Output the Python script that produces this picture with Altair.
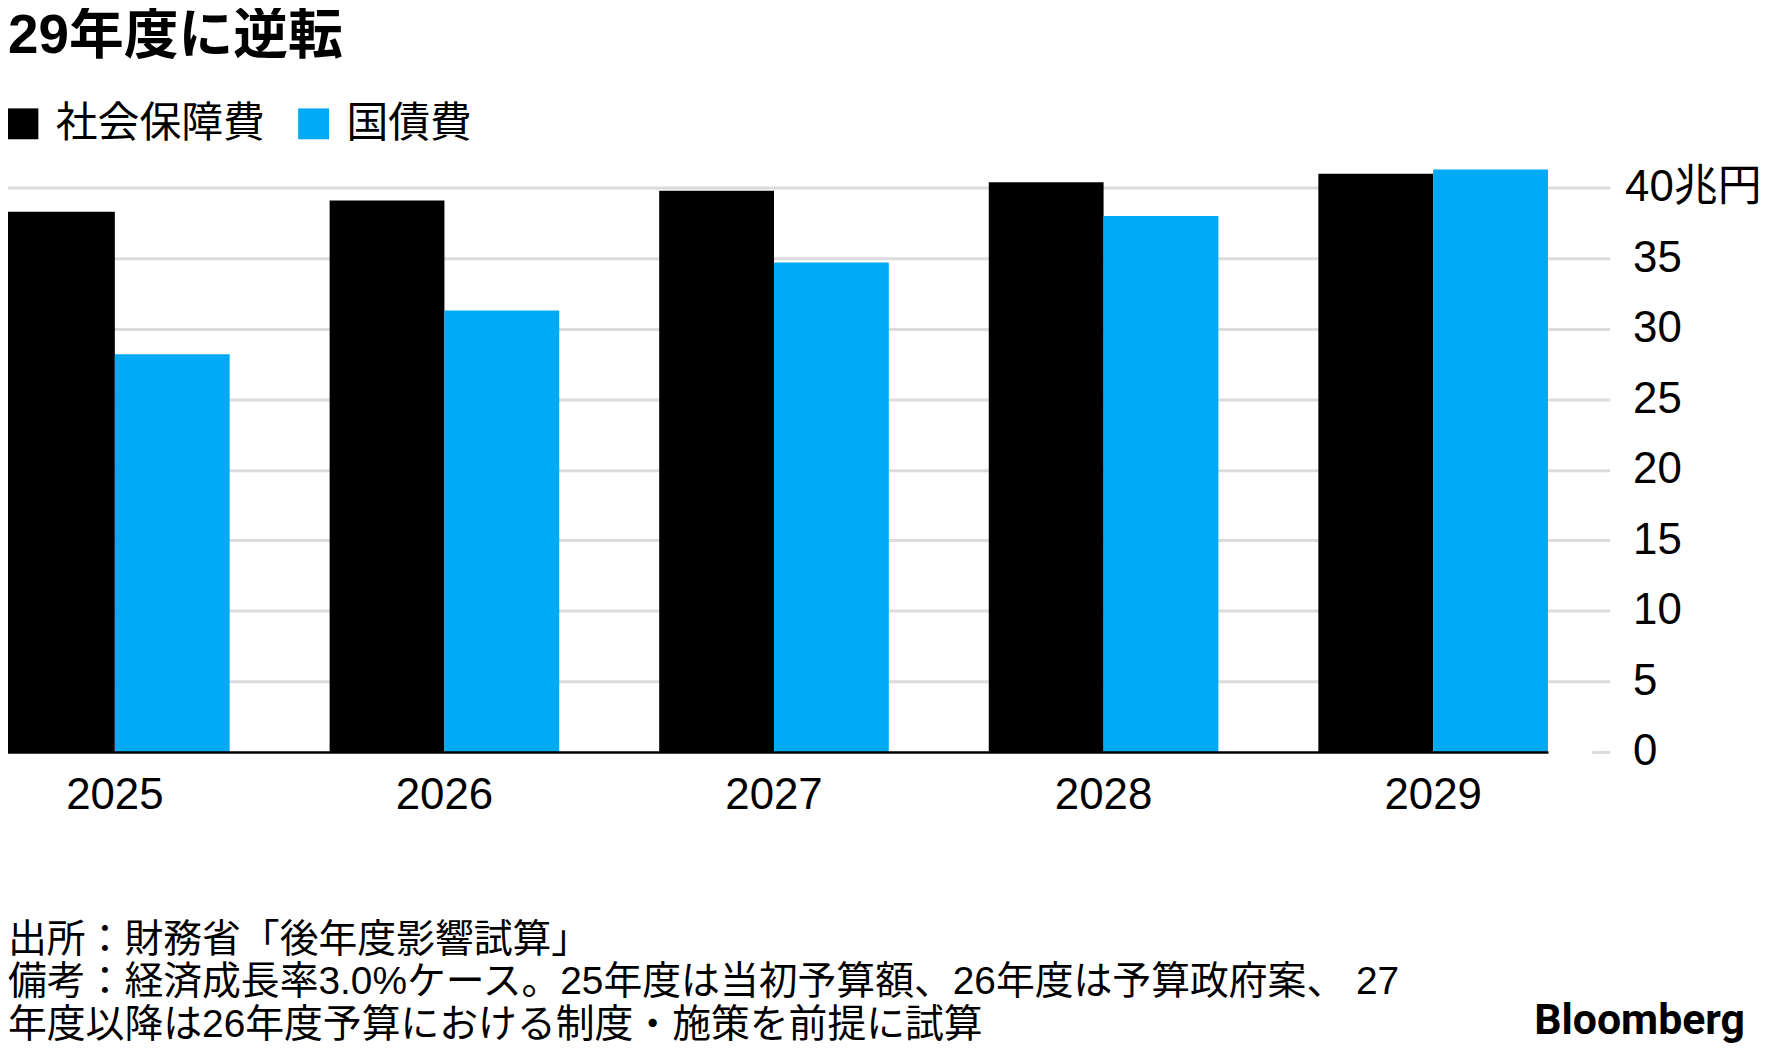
import altair as alt
import pandas as pd

years = ["2025", "2026", "2027", "2028", "2029"]
social_security = [38.3, 39.1, 39.8, 40.4, 41.0]
debt_service = [28.2, 31.3, 34.7, 38.0, 41.3]
series_names = ["社会保障費", "国債費"]
series_colors = ["#000000", "#00AAF5"]
y_tick_values = [0, 5, 10, 15, 20, 25, 30, 35, 40]
y_unit_label = "40兆円"
title_text = "29年度に逆転"
footnote_lines = [
    "出所：財務省「後年度影響試算」",
    "備考：経済成長率3.0%ケース。25年度は当初予算額、26年度は予算政府案、 27",
    "年度以降は26年度予算における制度・施策を前提に試算",
]
credit_text = "Bloomberg"

FONT = "'Liberation Sans', 'Noto Sans CJK JP', sans-serif"
GRID = "#dcdcdc"

rows = []
for i, yr in enumerate(years):
    rows.append({"year": yr, "series": series_names[0], "value": social_security[i]})
    rows.append({"year": yr, "series": series_names[1], "value": debt_service[i]})
df = pd.DataFrame(rows)

W, H = 1555, 595
TOP = 158

bars = alt.Chart(df).mark_bar().encode(
    x=alt.X(
        "year:N", sort=years,
        scale=alt.Scale(paddingInner=0.3033, paddingOuter=0),
        axis=alt.Axis(title=None, labelAngle=0, ticks=False, grid=False, domain=True,
                      domainColor="#000000", domainWidth=2.5, labelFont=FONT,
                      labelFontSize=44, labelColor="#000000", labelPadding=22, zindex=1),
    ),
    xOffset=alt.XOffset("series:N", sort=series_names,
                        scale=alt.Scale(paddingInner=0, paddingOuter=0)),
    y=alt.Y(
        "value:Q",
        scale=alt.Scale(domain=[0, 42], nice=False, zero=True),
        axis=alt.Axis(title=None, orient="right", values=y_tick_values, domain=False,
                      tickSize=62, tickColor=GRID, tickWidth=3,
                      tickDash={"condition": {"test": "datum.value === 0", "value": [0, 44, 18, 100]},
                                "value": []},
                      grid=True, gridColor=GRID, gridWidth=3,
                      gridOpacity={"condition": {"test": "datum.value === 0", "value": 0}, "value": 1},
                      labelFont=FONT, labelFontSize=44, labelColor="#000000",
                      labelPadding={"condition": {"test": "datum.value === 40", "value": 15},
                                    "value": 23},
                      labelExpr=f"datum.value === 40 ? '{y_unit_label}' : datum.label"),
    ),
    color=alt.Color(
        "series:N", sort=series_names,
        scale=alt.Scale(domain=series_names, range=series_colors),
        legend=alt.Legend(orient="none", legendX=2, legendY=-57, direction="horizontal",
                          title=None, symbolType="square", symbolSize=961,
                          symbolStrokeWidth=0, symbolOpacity=1,
                          labelFont=FONT, labelFontSize=42, labelColor="#000000",
                          labelOffset=12, columnPadding=27, labelLimit=600, padding=0),
    ),
)

one = pd.DataFrame({"k": [0]})

foot = alt.Chart(one).mark_text(
    text=footnote_lines, align="left", baseline="alphabetic", font=FONT,
    fontSize=39, lineHeight=42.5, color="#000000",
).encode(x=alt.value(8), y=alt.value(954 - TOP))

credit = alt.Chart(one).mark_text(
    text=credit_text, align="right", baseline="alphabetic", font="Roboto",
    fontSize=43, fontWeight="bold", color="#000000",
).encode(x=alt.value(1753), y=alt.value(1036 - TOP))

chart = alt.layer(bars, foot, credit).properties(
    width=W, height=H,
    title=alt.TitleParams(text=title_text, anchor="start", font=FONT, fontSize=55,
                          fontWeight="bold", color="#000000", offset=38, dx=8),
    padding={"left": -8, "top": TOP - 8, "right": 215, "bottom": 294.7},
    autosize=alt.AutoSizeParams(type="none"),
).configure_view(stroke=None)

chart.save("out.html", embed_options={"renderer": "svg", "actions": False})
